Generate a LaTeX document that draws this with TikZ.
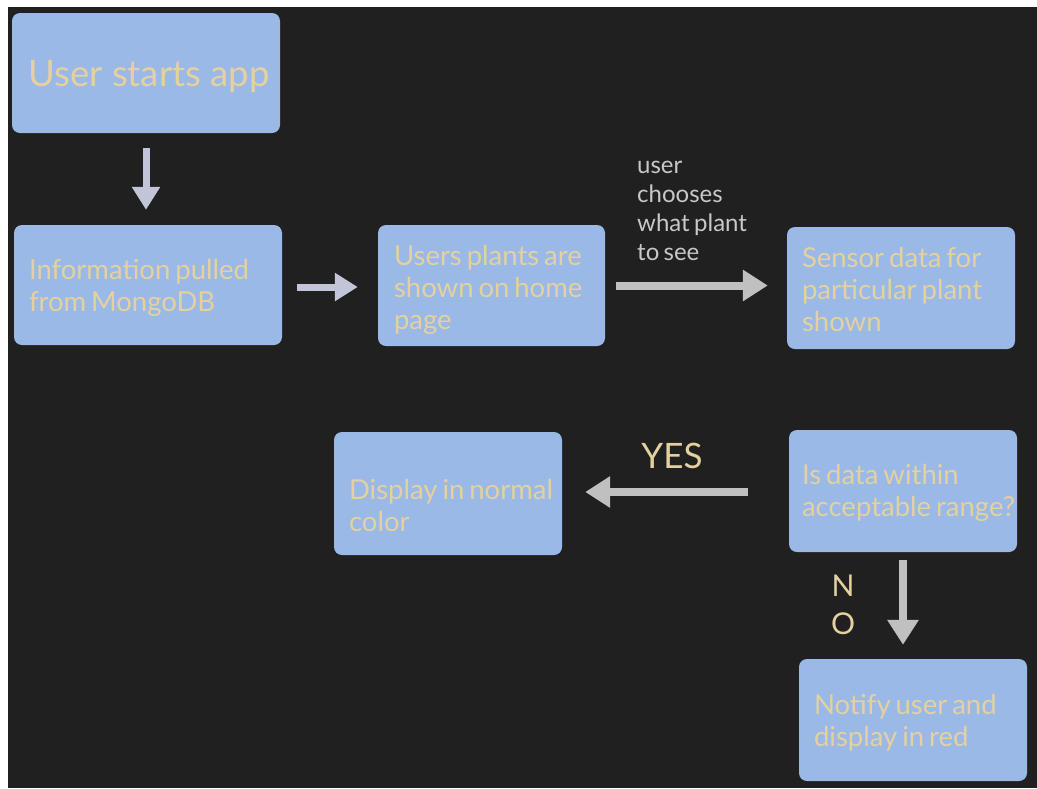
\documentclass[tikz,border=0pt]{standalone}
\usepackage{fontspec}
\setmainfont{Lato}
\newfontfamily\tightlato{Lato}[WordSpace=0.7]
\usetikzlibrary{arrows.meta,calc}
\definecolor{bg}{HTML}{202020}
\definecolor{boxfill}{HTML}{9AB9E6}
\definecolor{tan}{HTML}{E4D19F}
\definecolor{arrowA}{HTML}{C2C5D8}
\definecolor{arrowB}{HTML}{C0C0C0}
\definecolor{labelgray}{HTML}{C8C8C8}
\tikzset{
  flowbox/.style={fill=boxfill, draw=none, rounded corners=8pt, inner sep=0pt},
  boxtext/.style={anchor=west, inner sep=0pt, align=left, text=tan,
    font=\tightlato\fontsize{27.5}{32}\selectfont},
  arrA/.style={draw=arrowA, line width=7pt, -{Triangle[length=23pt,width=27pt]}},
  arrB/.style={draw=arrowB, line width=8pt, -{Triangle[length=25pt,width=30pt]}},
}
\begin{document}
\begin{tikzpicture}[x=1pt,y=-1pt]
\useasboundingbox (0,0) rectangle (1037,788);
\fill[white] (0,0) rectangle (1037,788);
\fill[bg] (8,7) rectangle (1037,788);

\node[flowbox, minimum width=268pt, minimum height=120pt] (start) at (146,73) {};
\node[flowbox, minimum width=268pt, minimum height=120pt] (info) at (148,285) {};
\node[flowbox, minimum width=227pt, minimum height=121pt] (plants) at (491.5,285.5) {};
\node[flowbox, minimum width=228pt, minimum height=122pt] (sensor) at (901,288) {};
\node[flowbox, minimum width=228pt, minimum height=123pt] (normal) at (448,493.5) {};
\node[flowbox, minimum width=228pt, minimum height=122pt] (check) at (903,491) {};
\node[flowbox, minimum width=228pt, minimum height=122pt] (notify) at (913,720) {};

\node[inner sep=0pt, text=tan, font=\fontsize{36.5}{40}\selectfont] (start-t)
  at ($(start.center)+(3,4)$) {User starts app};
\node[boxtext] (info-t) at ($(info.west)+(15,3)$) {Information pulled\\from MongoDB};
\node[boxtext] (plants-t) at ($(plants.west)+(16,4.5)$) {Users plants are\\shown on home\\page};
\node[boxtext] (sensor-t) at ($(sensor.west)+(15,1)$) {Sensor data for\\particular plant\\shown};
\node[boxtext] (normal-t) at ($(normal.west)+(15,11.5)$) {Display in normal\\color};
\node[boxtext] (check-t) at ($(check.west)+(13,2)$) {Is data within\\acceptable range?};
\node[boxtext] (notify-t) at ($(notify.west)+(15,3)$) {Notify user and\\display in red};

\draw[arrA, shorten <=15pt, shorten >=15pt] (start.south) -- (start.south |- info.north);
\draw[arrA, shorten <=15pt, shorten >=20pt] ($(info.east)+(0,2)$) -- ($(info.east -| plants.west)+(0,2)$);
\draw[arrB, shorten <=11pt, shorten >=19pt] (plants.east) -- (plants.east -| sensor.west);
\draw[arrB, shorten <=41pt, shorten >=23pt] ($(check.west)+(0,1)$) -- ($(check.west -| normal.east)+(0,1)$);
\draw[arrB, shorten <=8pt, shorten >=14pt] (check.south) -- (check.south |- notify.north);

\node[anchor=west, inner sep=0pt, align=left, text=labelgray,
  font=\tightlato\fontsize{24}{29}\selectfont] (choose) at (637,211)
  {user\\chooses\\what plant\\to see};
\node[text=tan, inner sep=0pt, font=\fontsize{35}{40}\selectfont] (yes) at (672,456) {YES};
\node[text=tan, inner sep=0pt, align=center, font=\fontsize{30}{38}\selectfont] (no) at (843,605) {N\\O};
\end{tikzpicture}
\end{document}
